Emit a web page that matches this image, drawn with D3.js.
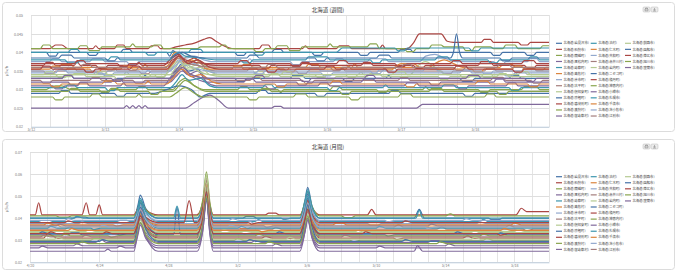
<!DOCTYPE html>
<html>
<head>
<meta charset="utf-8">
<script src="https://cdn.jsdelivr.net/npm/d3@7"></script>
<style>
  body { margin: 0; background: #fff; }
  svg text { font-family: "Noto Sans CJK JP", "Noto Sans", sans-serif; }
</style>
</head>
<body>
<svg id="chart" width="680" height="277"></svg>
<script>

var seriesNames = [
  "北海道(岩見沢市)", "北海道(石狩市)", "北海道(蘭越町)", "北海道(黒松内町)", "北海道(寿都町)",
  "北海道(島牧村)", "北海道(余市町)", "北海道(古平町)", "北海道(倶知安町)", "北海道(京極町)",
  "北海道(喜茂別町)", "北海道(真狩村)", "北海道(留寿都村)",
  "北海道(泊村)", "北海道(仁木町)", "北海道(共和町)", "北海道(赤井川村)", "北海道(岩内町)",
  "北海道(ニセコ町)", "北海道(積丹町)", "北海道(神恵内村)", "北海道(小樽市)", "北海道(札幌市)",
  "北海道(千歳市)", "北海道(苫小牧市)", "北海道(江別市)",
  "北海道(釧路市)", "北海道(函館市)", "北海道(帯広市)", "北海道(旭川市)", "北海道(室蘭市)"
];

var seriesColors = ["#4572A7", "#AA4643", "#89A54E", "#80699B", "#3D96AE", "#DB843D", "#92A8CD", "#A47D7C", "#B5CA92"];

// weekly chart: "hour:value" (value in 0.001 μSv/h), hours from 5/12 0:00
var weeklyTitle = "北海道 (週間)";
var weeklyXTicks = ["5/12", "5/13", "5/14", "5/15", "5/16", "5/17", "5/18"];
var weeklyYTicks = [0.02, 0.025, 0.03, 0.035, 0.04, 0.045, 0.05];
var weeklySeries = [
  "0:40 5:40 6:39 8:39 9:40 18:40 19:39.2 21:39.2 22:40 29:40 30:40.8 32:40.8 33:40 44:40 45:39 46:40.5 47:40 66:40 67:39.2 69:39.2 70:40 78:40 79:40.8 81:40.8 82:40 91:40 92:39.2 94:39.2 95:40 106:40 107:39.2 109:39.2 110:40 119:40 120:40.8 123:40.8 124:40 149:40 150:39.2 152:39.2 153:40 160:40 161:39.2 163:39.2 164:40 168:40",
  "0:41 6:41 7:41.5 8:42 10:42 12:41 20:41 21:41.8 22:41 27:41 28:42 30:42 31:41 38:41 39:41.8 41:41.8 42:41 45:41 47:41.5 50:42 53:42.5 56:43.5 58:44 60:43 62:42 66:41 74:41 75:42 77:42 78:41 88:41 89:41.8 90:41 99:41 100:41.8 103:41.8 104:41 113:41 114:42 115:41 122:41 124:42.5 126:45 133:45 135:43 137:42.7 146:42.7 147:43.5 149:43.5 150:42.7 158:42.7 159:42 161:42 162:42.7 168:42.7",
  "0:41 3:41 4:42 6:42 7:41 15:41 16:41.8 18:41.8 19:40.5 22:40.5 23:41.5 32:41.5 33:42.3 34:41.5 39:41.5 40:42 42:42 43:41 54:41 55:41.5 61:41.5 62:42 63:42 64:41 72:41 73:40.2 75:40.2 76:41 79:41 80:41.8 83:41.8 84:40.5 87:40.5 88:41.5 96:41.5 97:42.3 98:41.5 109:41.5 110:42.3 112:42.3 113:41 121:41 122:40.2 124:40.2 125:41 129:41 130:42 133:42 134:41.5 140:41.5 141:40.5 143:40.5 144:41.5 149:41.5 150:41 153:41 154:42 157:42 158:41 165:41 166:41.8 168:41.8",
  "0:25 30:25 31:25.7 32:25 33:25.7 34:25 35:25.7 36:25 37:25.7 38:25 50:25 53:26.5 56:28 58:28.5 61:27 64:25 78:25 79:25.5 81:25.5 82:25 125:25 127:26 168:26",
  "0:40 12:40 13:40.8 15:40.8 16:40 37:40 38:39.3 40:39.3 41:40 51:40 52:40.8 55:40.8 56:40 72:40 73:39.3 75:39.3 76:40 99:40 101:41.2 118:41.2 119:40.4 121:40.4 122:41.2 142:41.2 143:40.4 145:40.4 146:41.2 168:41.2",
  "0:36 9:36 10:36.8 13:36.8 14:36 24:36 25:35.2 27:35.2 28:36 36:36 37:36.8 38:36 43:36 45:37 46:39.5 47:40 49:38 51:39 53:38.5 55:37 58:36 68:36 69:36.8 71:36.8 72:36 80:36 81:35.2 83:35.2 84:36 89:36 90:36.8 93:36.8 94:36 104:36 105:37 106:36 114:36 115:35.2 117:35.2 118:36 129:36 131:37 134:38 137:37 140:36 152:36 153:36.8 156:36.8 157:36 163:36 164:35.2 166:35.2 167:36 168:36",
  "0:37.5 6:37.5 7:38.3 9:38.3 10:37.5 19:37.5 20:38.3 23:38.3 24:37.5 31:37.5 32:36.7 34:36.7 35:37.5 44:37.5 46:38.5 48:39.5 50:38.5 53:39 56:38 59:37.5 70:37.5 71:38.3 72:37.5 84:37.5 85:36.7 87:36.7 88:37.5 98:37.5 99:38.3 101:38.3 102:37.5 109:37.5 110:38.3 115:38.3 116:37.5 126:37.5 128:39 131:39.5 134:38.5 138:37.5 150:37.5 151:36.7 153:36.7 154:37.5 161:37.5 162:38.3 164:38.3 165:37.5 168:37.5",
  "0:35 4:35 5:34.2 7:34.2 8:35 11:35 12:35.8 14:35.8 15:35 26:35 27:35.8 28:35 35:35 36:34.2 38:34.2 39:35 44:35 46:37 48:39 50:37 52:37.5 54:38 57:35.5 60:35 70:35 71:35.8 73:35.8 74:35 86:35 87:34.2 89:34.2 90:35 100:35 101:35.8 102:35 114:35 115:35.8 118:35.8 119:35 133:35 134:34.2 136:34.2 137:35 147:35 148:35.8 150:35.8 151:35 159:35 160:35.8 163:35.8 164:35 168:35",
  "0:34 8:34 9:33.2 11:33.2 12:34 17:34 18:34.8 20:34.8 21:34 30:34 31:34.8 32:34 40:34 41:33.2 43:33.2 44:34 45:34 47:36 49:38.5 51:36 53:36.5 55:37.5 58:35 61:34 72:34 73:34.8 75:34.8 76:34 92:34 93:33.2 95:33.2 96:34 106:34 107:34.8 108:34 123:34 125:36 128:37.5 131:36 135:34 146:34 147:33.2 149:33.2 150:34 157:34 158:34.8 160:34.8 161:34 168:34",
  "0:33 10:33 11:33.8 13:33.8 14:33 24:33 25:32.2 27:32.2 28:33 36:33 37:33.8 38:33 45:33 47:35 49:37 51:35 54:35.5 57:33 66:33 67:32.2 69:32.2 70:33 84:33 85:33.8 88:33.8 89:33 101:33 102:32.2 104:32.2 105:33 115:33 116:33.8 117:33 139:33 140:32.2 143:32.2 144:33 155:33 156:33.8 158:33.8 159:33 168:33",
  "0:36.5 4:36.5 5:37.3 7:37.3 8:36.5 14:36.5 15:37.5 16:36.5 21:36.5 22:35.7 24:35.7 25:36.5 34:36.5 35:37.3 36:36.5 43:36.5 45:38 48:39.5 50:37.5 53:38.5 56:37 60:36.5 74:36.5 75:35.7 77:35.7 78:36.5 87:36.5 88:37.3 90:37.3 91:36.5 107:36.5 108:37.3 110:37.3 111:36.5 124:36.5 125:35.7 127:35.7 128:36.5 145:36.5 146:37.5 149:37.5 150:36.5 160:36.5 161:35.7 163:35.7 164:36.5 168:36.5",
  "0:30 5:30 6:30.5 8:31 10:31 13:30 22:30 23:29.2 25:29.2 26:30 34:30 35:30.8 37:30.8 38:30 46:30 48:32 50:33 53:31 56:30 67:30 68:30.8 70:30.8 71:30 80:30 81:29.2 82:30 97:30 98:30.8 100:30.8 101:30 112:30 113:29.2 115:29.2 116:30 127:30 128:30.8 129:30 145:30 146:29.2 148:29.2 149:30 159:30 160:30.8 164:30.8 165:30 168:30",
  "0:31 7:31 8:30.2 10:30.2 11:31 15:31 16:31.8 18:31.8 19:31 29:31 30:31.8 31:31 43:31 45:33 48:36 51:34 54:35 57:32 60:31 76:31 77:30.2 79:30.2 80:31 93:31 94:31.8 96:31.8 97:31 121:31 122:31.8 125:31.8 126:31 138:31 139:30.2 141:30.2 142:31 154:31 155:31.8 157:31.8 158:31 168:31",
  "0:38 11:38 12:37.2 15:37.2 16:38 25:38 26:38.8 28:38.8 29:38 45:38 46:39 48:40 50:39 55:38.5 60:38 68:38 69:37.2 71:37.2 72:38 89:38 90:38.8 96:38.8 97:38 110:38 111:37.2 113:37.2 114:38 131:38 132:38.8 135:38.8 136:38 148:38 149:37.2 151:37.2 152:38 161:38 162:38.8 164:38.8 165:38 168:38",
  "0:35.5 6:35.5 7:36.3 9:36.3 10:35.5 19:35.5 20:34.7 22:34.7 23:35.5 29:35.5 30:36.3 32:36.3 33:35.5 44:35.5 46:37 48:38.5 50:37 52:38 55:36 58:35.5 65:35.5 66:36.3 68:36.3 69:35.5 82:35.5 83:34.7 85:34.7 86:35.5 102:35.5 103:36.3 104:35.5 117:35.5 118:36 120:37 124:37 126:36 130:35.5 143:35.5 144:34.7 146:34.7 147:35.5 156:35.5 157:36.3 159:36.3 160:35.5 168:35.5",
  "0:34.5 8:34.5 9:35.3 11:35.3 12:34.5 23:34.5 24:33.7 26:33.7 27:34.5 37:34.5 38:35.3 39:34.5 44:34.5 46:36 48:38 50:36.5 53:37 57:35 60:34.5 73:34.5 74:35.3 76:35.3 77:34.5 94:34.5 95:33.7 97:33.7 98:34.5 112:34.5 113:35.3 115:35.3 116:34.5 139:34.5 140:35.3 142:35.3 143:34.5 153:34.5 154:33.7 156:33.7 157:34.5 168:34.5",
  "0:32.5 3:32.5 4:31.7 6:31.7 7:32.5 19:32.5 20:33.3 22:33.3 23:32.5 33:32.5 34:31.7 36:31.7 37:32.5 45:32.5 47:34.5 49:36.5 51:34.5 56:33 60:32.5 71:32.5 72:33.3 74:33.3 75:32.5 88:32.5 89:31.7 91:31.7 92:32.5 119:32.5 120:33.3 122:33.3 123:32.5 149:32.5 150:33.3 153:33.3 154:32.5 162:32.5 163:31.7 165:31.7 166:32.5 168:32.5",
  "0:33.5 13:33.5 14:34.3 17:34.3 18:33.5 27:33.5 28:32.7 30:32.7 31:33.5 43:33.5 45:35.5 48:37.5 51:35.5 55:36 58:34 62:33.5 77:33.5 78:34.3 80:34.3 81:33.5 95:33.5 96:32.7 98:32.7 99:33.5 109:33.5 110:34.3 113:34.3 114:33.5 132:33.5 133:32.7 135:32.7 136:33.5 151:33.5 152:34.3 154:34.3 155:33.5 168:33.5",
  "0:29 9:29 10:29.8 12:29.8 13:29 27:29 28:28.2 30:28.2 31:29 40:29 44:30 48:31 52:30 55:28 58:29 73:29 74:29.8 76:29.8 77:29 92:29 93:28.2 95:28.2 96:29 116:29 117:29.8 119:29.8 120:29 140:29 141:28.2 143:28.2 144:29 168:29",
  "0:37 14:37 15:37.8 17:37.8 18:37 28:37 29:36.2 31:36.2 32:37 44:37 46:38 48:39 50:38 57:37 67:37 68:37.8 70:37.8 71:37 84:37 85:36.2 87:36.2 88:37 99:37 100:37.8 102:37.8 103:37 118:37 119:36.2 121:36.2 122:37 136:37 137:37.8 139:37.8 140:37 159:37 160:37.8 163:37.8 164:37 168:37",
  "0:28 7:28 8:27.2 10:27.2 11:28 19:28 20:28.8 22:28.8 23:28 34:28 35:28.8 36:28 45:28 47:29 50:30.5 53:29 56:28 70:28 71:27.2 73:27.2 74:28 85:28 86:28.8 89:28.8 90:28 103:28 104:27.2 106:27.2 107:28 119:28 120:28.8 123:28.8 124:28 147:28 148:28.8 150:28.8 151:28 168:28",
  "0:32 12:32 13:31.2 15:31.2 16:32 26:32 27:32.8 29:32.8 30:32 45:32 47:33.5 49:35 51:34 57:32 69:32 70:32.8 72:32.8 73:32 86:32 87:31.2 89:31.2 90:32 107:32 108:32.8 111:32.8 112:32 129:32 130:31.2 132:31.2 133:32 150:32 151:32.8 153:32.8 154:32 168:32",
  "0:30.5 11:30.5 12:31.3 14:31.3 15:30.5 24:30.5 25:29.7 27:29.7 28:30.5 45:30.5 47:32 49:34 51:32.5 55:33 58:31 61:30.5 75:30.5 76:31.3 78:31.3 79:30.5 96:30.5 97:29.7 99:29.7 100:30.5 114:30.5 115:31.3 116:30.5 133:30.5 134:31.3 137:31.3 138:30.5 155:30.5 156:29.7 158:29.7 159:30.5 168:30.5",
  "0:31.5 6:31.5 7:30.7 9:30.7 10:31.5 23:31.5 24:32.3 27:32.3 28:31.5 37:31.5 38:32.3 39:31.5 44:31.5 46:33 49:35.5 52:33.5 55:34 59:32 62:31.5 79:31.5 80:30.7 82:30.7 83:31.5 97:31.5 98:32.3 100:32.3 101:31.5 121:31.5 122:30.7 124:30.7 125:31.5 144:31.5 145:32.3 148:32.3 149:31.5 161:31.5 162:30.7 164:30.7 165:31.5 168:31.5",
  "0:35 7:35 8:35.8 10:35.8 11:35 21:35 22:34.2 24:34.2 25:35 45:35 47:36.5 49:38 52:36 59:35 72:35 73:34.2 75:34.2 76:35 90:35 91:35.8 93:35.8 94:35 110:35 111:34.2 113:34.2 114:35 127:35 128:35.8 131:35.8 132:35 146:35 147:34.2 149:34.2 150:35 168:35",
  "0:36 16:36 17:36.8 19:36.8 20:36 31:36 32:35.2 34:35.2 35:36 44:36 46:37.5 48:38.5 51:37 60:36 76:36 77:36.8 79:36.8 80:36 97:36 98:35.2 100:35.2 101:36 120:36 121:36.8 123:36.8 124:36 137:36 138:35.2 140:35.2 141:36 151:36 152:36.8 155:36.8 156:36 168:36",
  "0:34 4:34 5:34.8 7:34.8 8:34 21:34 22:34.8 24:34.8 25:34 35:34 36:33.2 38:33.2 39:34 46:34 48:35.5 50:37 53:35.5 58:34 81:34 82:34.8 84:34.8 85:34 102:34 103:33.2 105:33.2 106:34 117:34 118:34.8 121:34.8 122:34 139:34 140:33.2 142:33.2 143:34 158:34 159:34.8 161:34.8 162:34 168:34",
  "0:38.5 9:38.5 10:39.3 13:39.3 14:38.5 24:38.5 25:37.7 27:37.7 28:38.5 45:38.5 47:39.5 49:40 52:39 57:38.5 70:38.5 71:39.3 73:39.3 74:38.5 92:38.5 93:37.7 95:37.7 96:38.5 112:38.5 113:39.3 116:39.3 117:38.5 136:38.5 137:40 138:45 139:40 140:38.5 152:38.5 153:37.7 155:37.7 156:38.5 168:38.5",
  "0:35.5 3:35.5 4:36.3 6:36.3 7:35.5 17:35.5 18:34.7 20:34.7 21:35.5 32:35.5 33:36.3 35:36.3 36:35.5 44:35.5 46:37.5 48:39 51:37 54:38 58:36 61:35.5 76:35.5 77:34.7 79:34.7 80:35.5 95:35.5 96:36.3 98:36.3 99:35.5 115:35.5 116:34.7 118:34.7 119:35.5 137:35.5 138:36.3 141:36.3 142:35.5 156:35.5 157:34.7 159:34.7 160:35.5 168:35.5",
  "0:29.5 12:29.5 13:30.3 15:30.3 16:29.5 25:29.5 26:30.3 28:30.3 29:29.5 38:29.5 39:28.7 41:28.7 42:29.5 46:29.5 48:31 50:32.5 53:31 57:29.5 74:29.5 75:30.3 77:30.3 78:29.5 100:29.5 101:28.7 103:28.7 104:29.5 129:29.5 130:30.3 133:30.3 134:29.5 151:29.5 152:28.7 154:28.7 155:29.5 168:29.5",
  "0:33 10:33 11:33.8 13:33.8 14:33 26:33 27:32.2 29:32.2 30:33 45:33 47:34.5 49:36 52:34 58:33 72:33 73:33.8 75:33.8 76:33 87:33 88:32.2 90:32.2 91:33 108:33 109:33.8 111:33.8 112:33 141:33 142:33.8 145:33.8 146:33 160:33 161:32.2 163:32.2 164:33 168:33"
];

// monthly chart: "day:value" (value in 0.001 μSv/h), days from 4/20 0:00
var monthlyTitle = "北海道 (月間)";
var monthlyXTicks = ["4/20", "4/24", "4/28", "5/2", "5/6", "5/10", "5/14", "5/18"];
var monthlyYTicks = [0.02, 0.03, 0.04, 0.05, 0.06, 0.07];
var monthlySeries = [
  "0:40 2.5:40 2.7:40.5 3.2:40.5 3.4:40 6:40 6.25:46.3 6.375:50.5 6.7:44.2 7.4:40 9.65:40 10:46 10.2:55 10.4:44.5 10.6:40 12.3:40 12.5:40.8 12.9:40.8 13.1:40 15.6:40 15.9:48.4 16.05:54 16.3:45.6 16.75:40 22.2:40 22.5:44 22.8:40 26.5:40 26.7:39.3 27.1:39.3 27.3:40 30:40",
  "0:41.5 0.3:41.5 0.5:47 0.7:41.5 3:41.5 3.25:47 3.45:41.5 3.8:41.5 4:46 4.2:41.5 6:41.5 6.25:44.8 6.375:47 6.7:43.7 7.4:41.5 9.65:41.5 10:47.7 10.2:57 10.4:46.2 10.6:41.5 13.6:41.5 13.8:42.3 14.2:42.3 14.4:41.5 15.6:41.5 15.9:46.6 16.05:50 16.3:44.9 16.75:41.5 19.5:41.5 19.75:44 20:41.5 28.1:41.5 28.4:44.5 28.7:43 30:43",
  "0:41 1.5:41 1.7:40.5 2.2:40.5 2.4:41 6:41 6.25:44.5 6.375:48 6.7:43.8 7.4:41 9.65:41 10:49 10.2:61 10.4:47 10.6:41 15.6:41 15.9:47.6 16.05:52 16.3:45.4 16.75:41 18:41 18.2:40.3 18.6:40.3 18.8:41 24:41 24.3:42 24.6:41 30:41",
  "0:25 4.3:25 4.5:26 4.7:25 6:25 6.25:35.2 6.375:42 6.7:31.8 7.4:25 9.65:25 10:35 10.2:50 10.4:32.5 10.6:25 15.6:25 15.9:34 16.05:40 16.3:31 16.75:25 22.2:25 22.4:27.6 22.7:25 30:25",
  "0:38.5 0.5:38.5 0.7:37.8 1.1:37.8 1.3:38.5 5:38.5 5.2:39 5.6:39 5.8:38.5 6:38.5 6.25:44.8 6.375:49 6.7:42.7 7.4:38.5 9.65:38.5 10:44.3 10.2:53 10.4:42.9 10.6:38.5 13:38.5 13.2:39.3 13.5:38.5 15.6:38.5 15.9:46.6 16.05:52 16.3:43.9 16.75:38.5 26:38.5 26.2:39.5 26.5:38.5 30:38.5",
  "0:36 1:36 1.2:36.8 1.6:36.8 1.8:36 6:36 6.25:42 6.375:46 6.7:40 7.4:36 9.65:36 10:44 10.2:56 10.4:42 10.6:36 12:36 12.2:35.3 12.6:35.3 12.8:36 15.6:36 15.9:43.8 16.05:49 16.3:41.2 16.75:36 21:36 21.3:37 21.6:36 27.5:36 27.7:36.8 28:36 30:36",
  "0:37.5 2.8:37.5 3:38.3 3.4:37.5 6:37.5 6.25:42 6.375:45 6.7:40.5 7.4:37.5 9.65:37.5 10:43.3 10.2:52 10.4:41.9 10.6:37.5 12.5:37.5 12.7:38.5 13:37.5 15.6:37.5 15.9:43.8 16.05:48 16.3:41.7 16.75:37.5 19.5:37.5 19.7:36.8 20.1:36.8 20.3:37.5 25.8:37.5 26:38.3 26.4:37.5 30:37.5",
  "0:35 2:35 2.3:36 2.6:35 6:35 6.25:40.4 6.375:44 6.7:38.6 7.4:35 9.65:35 10:44.2 10.2:58 10.4:41.9 10.6:35 14:35 14.2:35.8 14.6:35 15.6:35 15.9:42.2 16.05:47 16.3:39.8 16.75:35 23.5:35 23.8:36 24.1:35 28.5:35 28.7:34.3 29.1:35 30:35",
  "0:33.5 1.2:33.5 1.4:34.3 1.8:34.3 2:33.5 6:33.5 6.25:39.2 6.375:43 6.7:37.3 7.4:33.5 9.65:33.5 10:44.1 10.2:60 10.4:41.5 10.6:33.5 12.2:33.5 12.4:32.8 12.8:33.5 15.6:33.5 15.9:41 16.05:46 16.3:38.5 16.75:33.5 19:33.5 19.3:34.5 19.6:33.5 25.5:33.5 25.7:34.3 26:33.5 30:33.5",
  "0:32.5 2.2:32.5 2.4:33.3 2.8:33.3 3:32.5 6:32.5 6.25:41.2 6.375:47 6.7:38.3 7.4:32.5 8.3:32.5 8.5:45 8.7:32.5 9.65:32.5 10:39.5 10.2:50 10.4:37.8 10.6:32.5 15.6:32.5 15.9:43.6 16.05:51 16.3:39.9 16.75:32.5 20.5:32.5 20.7:31.8 21.1:32.5 27:32.5 27.2:33.3 27.6:32.5 30:32.5",
  "0:31 0.8:31 1:33 1.3:32 1.6:31 6:31 6.25:37.6 6.375:42 6.7:35.4 7.4:31 9.65:31 10:40.6 10.2:55 10.4:38.2 10.6:31 13.4:31 13.6:31.8 14:31 15.6:31 15.9:39.4 16.05:45 16.3:36.6 16.75:31 21:31 21.2:30.3 21.6:31 25:31 25.3:32 25.6:31 30:31",
  "0:30 3.5:30 3.7:30.8 4.1:30.8 4.3:30 6:30 6.25:38.4 6.375:44 6.7:35.6 7.4:30 9.65:30 10:38.8 10.2:52 10.4:36.6 10.6:30 11.8:30 12:30.8 12.4:30 15.6:30 15.9:38.4 16.05:44 16.3:35.6 16.75:30 18.5:30 18.7:29.3 19.1:30 26.2:30 26.4:30.8 26.8:30 30:30",
  "0:29 3.8:29 4.1:30.5 4.4:29 6:29 6.25:35.6 6.375:40 6.7:33.4 7.4:29 9.65:29 10:37 10.2:49 10.4:35 10.6:29 12.8:29 13:29.8 13.4:29 15.6:29 15.9:37.4 16.05:43 16.3:34.6 16.75:29 23:29 23.2:29.8 23.6:29.8 23.8:29 30:29",
  "0:40 2.5:40 2.7:40.8 3.1:40 6:40 6.25:44.8 6.375:48 6.7:43.2 7.4:40 8.3:40 8.5:45.5 8.7:40 9.65:40 10:45.6 10.2:54 10.4:44.2 10.6:40 14.5:40 14.7:39.3 15.1:40 15.6:40 15.9:47.8 16.05:53 16.3:45.2 16.75:40 22.3:40 22.5:43.5 22.7:40 30:40",
  "0:37 0.8:37 1:37.8 1.4:37 4.8:37 5:36.3 5.4:37 6:37 6.25:41.2 6.375:44 6.7:39.8 7.4:37 9.65:37 10:42.6 10.2:51 10.4:41.2 10.6:37 15.6:37 15.9:43 16.05:47 16.3:41 16.75:37 17.5:37 17.7:37.8 18.1:37.8 18.3:37 27.8:37 28:37.8 28.4:37 30:37",
  "0:39 2:39 2.2:39.8 2.6:39 6:39 6.25:43.2 6.375:46 6.7:41.8 7.4:39 9.65:39 10:44.6 10.2:53 10.4:43.2 10.6:39 11.5:39 11.7:39.8 12.1:39 15.6:39 15.9:45.6 16.05:50 16.3:43.4 16.75:39 20.5:39 20.7:38.3 21.1:39 25:39 25.2:39.8 25.6:39 30:39",
  "0:36.5 1.5:36.5 1.7:37.3 2.1:36.5 6:36.5 6.25:40.4 6.375:43 6.7:39.1 7.4:36.5 9.65:36.5 10:44.7 10.2:57 10.4:42.7 10.6:36.5 13.5:36.5 13.7:35.8 14.1:36.5 15.6:36.5 15.9:42.2 16.05:46 16.3:40.3 16.75:36.5 23:36.5 23.2:37.3 23.6:36.5 30:36.5",
  "0:34 3.2:34 3.4:34.8 3.8:34 6:34 6.25:38.8 6.375:42 6.7:37.2 7.4:34 9.65:34 10:44 10.2:59 10.4:41.5 10.6:34 11:34 11.2:34.8 11.6:34 15.6:34 15.9:40.6 16.05:45 16.3:38.4 16.75:34 18.8:34 19:33.3 19.4:34 28:34 28.2:34.8 28.6:34 30:34",
  "0:33 0.5:33 0.7:33.8 1.1:33 5:33 5.2:32.3 5.6:33 6:33 6.25:40.2 6.375:45 6.7:37.8 7.4:33 9.65:33 10:40.2 10.2:51 10.4:38.4 10.6:33 14.2:33 14.4:33.8 14.8:33 15.6:33 15.9:42.6 16.05:49 16.3:39.4 16.75:33 24.5:33 24.7:33.8 25.1:33 30:33",
  "0:38 2:38 2.2:38.8 2.6:38 6:38 6.25:41.6 6.375:44 6.7:40.4 7.4:38 8.9:38 9.2:48 9.5:38 9.65:38 10:45.2 10.2:56 10.4:43.4 10.6:38 12.6:38 12.8:37.3 13.2:38 15.6:38 15.9:44 16.05:48 16.3:42 16.75:38 21.5:38 21.7:38.8 22.1:38 30:38",
  "0:32 1.8:32 2:32.8 2.4:32 4.5:32 4.7:31.3 5.1:32 6:32 6.25:37.4 6.375:41 6.7:35.6 7.4:32 9.65:32 10:40.4 10.2:53 10.4:38.3 10.6:32 13:32 13.2:32.8 13.6:32 15.6:32 15.9:39.2 16.05:44 16.3:36.8 16.75:32 26:32 26.2:32.8 26.6:32 30:32",
  "0:27.5 2.5:27.5 2.7:28.3 3.1:27.5 6:27.5 6.25:33.8 6.375:38 6.7:31.7 7.4:27.5 9.65:27.5 10:36.9 10.2:51 10.4:34.6 10.6:27.5 14:27.5 14.2:28.3 14.6:27.5 15.6:27.5 15.9:35 16.05:40 16.3:32.5 16.75:27.5 24:27.5 24.2:28.3 24.6:27.5 30:27.5",
  "0:35.5 1:35.5 1.2:36.3 1.6:35.5 3.5:35.5 3.7:34.8 4.1:35.5 6:35.5 6.25:42.4 6.375:47 6.7:40.1 7.4:35.5 9.65:35.5 10:42.1 10.2:52 10.4:40.5 10.6:35.5 12:35.5 12.2:36.3 12.6:35.5 15.6:35.5 15.9:44.2 16.05:50 16.3:41.3 16.75:35.5 20:35.5 20.2:36.3 20.6:35.5 30:35.5",
  "0:34.5 2.2:34.5 2.4:35.3 2.8:34.5 6:34.5 6.25:39 6.375:42 6.7:37.5 7.4:34.5 9.65:34.5 10:42.7 10.2:55 10.4:40.7 10.6:34.5 13.2:34.5 13.4:33.8 13.8:34.5 15.6:34.5 15.9:41.4 16.05:46 16.3:39.1 16.75:34.5 27.2:34.5 27.4:35.3 27.8:34.5 30:34.5",
  "0:36 4:36 4.2:36.8 4.6:36 6:36 6.25:40.8 6.375:44 6.7:39.2 7.4:36 9.65:36 10:41.6 10.2:50 10.4:40.2 10.6:36 11.4:36 11.6:36.8 12:36 15.6:36 15.9:42.6 16.05:47 16.3:40.4 16.75:36 22.8:36 23:35.3 23.4:36 30:36",
  "0:31.5 0.6:31.5 0.8:32.3 1.2:31.5 3:31.5 3.2:32.3 3.6:31.5 6:31.5 6.25:36.6 6.375:40 6.7:34.9 7.4:31.5 9.65:31.5 10:40.5 10.2:54 10.4:38.3 10.6:31.5 15.6:31.5 15.9:38.4 16.05:43 16.3:36.1 16.75:31.5 18:31.5 18.2:32.3 18.6:31.5 30:31.5",
  "0:30.5 1.4:30.5 1.6:31.3 2:30.5 6:30.5 6.25:35.6 6.375:39 6.7:33.9 7.4:30.5 9.65:30.5 10:40.7 10.2:56 10.4:38.2 10.6:30.5 14.8:30.5 15:31.3 15.4:30.5 15.6:30.5 15.9:37.4 16.05:42 16.3:35.1 16.75:30.5 25.5:30.5 25.7:31.3 26.1:30.5 30:30.5",
  "0:29.5 4:29.5 4.2:30.3 4.6:29.5 6:29.5 6.25:37.6 6.375:43 6.7:34.9 7.4:29.5 9.65:29.5 10:37.3 10.2:49 10.4:35.4 10.6:29.5 12.5:29.5 12.7:30.3 13.1:29.5 15.6:29.5 15.9:39.4 16.05:46 16.3:36.1 16.75:29.5 21.5:29.5 21.7:30.3 22.1:29.5 30:29.5",
  "0:33 1:33 1.2:33.8 1.6:33 4.2:33 4.4:33.8 4.8:33 6:33 6.25:37.8 6.375:41 6.7:36.2 7.4:33 9.65:33 10:40.6 10.2:52 10.4:38.7 10.6:33 15.6:33 15.9:39.6 16.05:44 16.3:37.4 16.75:33 19.2:33 19.4:33.8 19.8:33 27:33 27.2:32.3 27.6:33 30:33",
  "0:28.5 2.8:28.5 3:29.3 3.4:28.5 6:28.5 6.25:34.2 6.375:38 6.7:32.3 7.4:28.5 9.65:28.5 10:37.1 10.2:50 10.4:35 10.6:28.5 13.6:28.5 13.8:29.3 14.2:28.5 15.6:28.5 15.9:36 16.05:41 16.3:33.5 16.75:28.5 23.5:28.5 23.7:29.3 24.1:28.5 30:28.5",
  "0:26.5 0.5:26.5 0.7:27.3 1.1:26.5 5:26.5 5.2:27.3 5.6:26.5 6:26.5 6.25:32.8 6.375:37 6.7:30.7 7.4:26.5 9.65:26.5 10:35.1 10.2:48 10.4:33 10.6:26.5 15.6:26.5 15.9:34 16.05:39 16.3:31.5 16.75:26.5 20:26.5 20.2:27.3 20.6:26.5 30:26.5"
];

var svg = d3.select("#chart");
var parseDate = d3.timeParse("%Y/%m/%d");

function decode(s, start, unitHours) {
  return s.split(" ").map(function (p) {
    var a = p.split(":");
    return { t: new Date(start.getTime() + (+a[0]) * unitHours * 3600e3), v: +a[1] / 1000 };
  });
}

function drawPanel(o) {
  var g = svg.append("g");
  var right = 549;

  g.append("rect")
    .attr("x", 2.5).attr("y", o.top + 0.5)
    .attr("width", 672).attr("height", o.height)
    .attr("rx", 3)
    .attr("fill", "#fff").attr("stroke", "#dcdcdc");

  var ticks = o.xTicks.map(function (d) { return parseDate("2011/" + d); });
  var x = d3.scaleTime().domain([o.start, o.end]).range([o.left, right]);
  var y = d3.scaleLinear().domain(d3.extent(o.yTicks)).range([o.bottom, o.plotTop]);

  // vertical grid (minor)
  g.append("g")
    .attr("transform", "translate(0," + o.bottom + ")")
    .call(d3.axisBottom(x).ticks(o.minor).tickSize(-(o.bottom - o.plotTop)).tickFormat(""))
    .call(function (s) { s.select(".domain").remove(); })
    .selectAll("line").attr("stroke", "#e4e4e4").attr("shape-rendering", "crispEdges");

  // horizontal grid + y labels
  var ya = g.append("g")
    .attr("transform", "translate(" + o.left + ",0)")
    .call(d3.axisLeft(y).tickValues(o.yTicks).tickSize(-(right - o.left)).tickPadding(8).tickFormat(function (d) { return String(d); }));
  ya.select(".domain").remove();
  ya.selectAll("line").attr("stroke", "#dedede").attr("shape-rendering", "crispEdges");
  ya.selectAll("text").attr("fill", "#777").style("font-size", "3.6px");

  // x labels
  var xa = g.append("g")
    .attr("transform", "translate(0," + o.bottom + ")")
    .call(d3.axisBottom(x).tickValues(ticks).tickSize(0).tickPadding(o.xPad).tickFormat(d3.timeFormat("%-m/%-d")));
  xa.select(".domain").attr("stroke", "#c0d0e0");
  xa.selectAll("text").attr("fill", "#777").style("font-size", "3.6px");

  // y axis title
  g.append("text")
    .attr("transform", "translate(8," + ((o.bottom + o.plotTop) / 2) + ") rotate(-90)")
    .attr("text-anchor", "middle")
    .attr("fill", "#777")
    .style("font-size", "3.6px")
    .text("μSv/h");

  // title
  g.append("text")
    .attr("x", 328).attr("y", o.top + 10)
    .attr("text-anchor", "middle")
    .attr("fill", "#333")
    .style("font-size", "5.5px")
    .text(o.title);

  // export buttons
  [643, 651].forEach(function (bx, i) {
    g.append("rect")
      .attr("x", bx).attr("y", o.top + 5)
      .attr("width", 7).attr("height", 5).attr("rx", 1)
      .attr("fill", "#ececec").attr("stroke", "#b8b8b8").attr("stroke-width", 0.5);
    g.append("path")
      .attr("d", i === 0
        ? "M" + (bx + 2) + "," + (o.top + 8.8) + "h3v-1.8h-3z M" + (bx + 2.6) + "," + (o.top + 7) + "v-1h1.8v1"
        : "M" + (bx + 2) + "," + (o.top + 9) + "h3 M" + (bx + 3.5) + "," + (o.top + 6) + "v2.3 M" + (bx + 2.6) + "," + (o.top + 7.3) + "l0.9,1l0.9,-1")
      .attr("fill", "none").attr("stroke", "#777").attr("stroke-width", 0.5);
  });

  // series (smooth like the original spline look)
  var line = d3.line()
    .curve(d3.curveMonotoneX)
    .x(function (d) { return x(d.t); })
    .y(function (d) { return y(d.v); });

  g.append("g").selectAll("path")
    .data(o.series)
    .enter()
    .append("path")
      .attr("d", function (s) { return line(decode(s, o.start, o.unit)); })
      .attr("fill", "none")
      .attr("stroke", function (d, i) { return seriesColors[i % seriesColors.length]; })
      .attr("stroke-width", 1.2)
      .attr("stroke-linejoin", "round");

  // legend, 13 rows per column
  var colX = [556, 590.7, 625];
  var items = g.append("g").selectAll("g")
    .data(seriesNames)
    .enter()
    .append("g")
      .attr("transform", function (d, i) {
        return "translate(" + colX[Math.floor(i / 13)] + "," + (o.legendTop + (i % 13) * 6.06) + ")";
      });
  items.append("line")
    .attr("x1", 0).attr("x2", 6)
    .attr("stroke", function (d, i) { return seriesColors[i % seriesColors.length]; })
    .attr("stroke-width", 1.2);
  items.append("text")
    .attr("x", 7.5).attr("dy", "0.35em")
    .attr("fill", "#3e3e3e")
    .style("font-size", "3.3px")
    .text(function (d) { return d; });
}

drawPanel({
  top: 2, height: 129, title: weeklyTitle,
  start: parseDate("2011/5/12"), end: parseDate("2011/5/19"), unit: 1,
  left: 31, plotTop: 15.3, bottom: 126.7, xPad: 1.5,
  minor: d3.timeHour.every(6), xTicks: weeklyXTicks, yTicks: weeklyYTicks,
  series: weeklySeries, legendTop: 43.3
});

drawPanel({
  top: 139, height: 130, title: monthlyTitle,
  start: parseDate("2011/4/20"), end: parseDate("2011/5/20"), unit: 24,
  left: 30, plotTop: 152, bottom: 262.3, xPad: 2,
  minor: d3.timeDay.every(1), xTicks: monthlyXTicks, yTicks: monthlyYTicks,
  series: monthlySeries, legendTop: 176.7
});
</script>
</body>
</html>
